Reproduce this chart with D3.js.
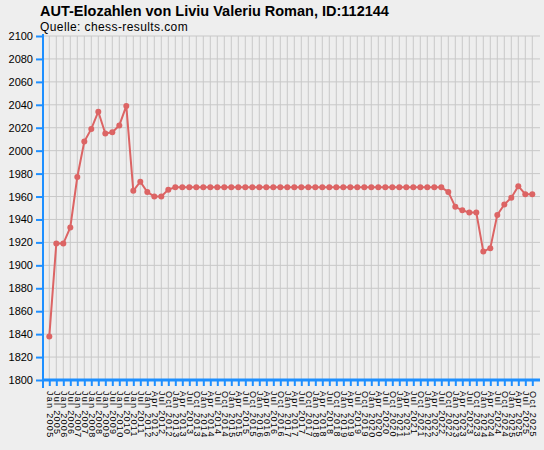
<!DOCTYPE html>
<html>
<head>
<meta charset="utf-8">
<script src="https://cdn.jsdelivr.net/npm/d3@7"></script>
<style>
  body { margin: 0; background: #eeeeee; }
  svg { display: block; font-family: "Liberation Sans", Arial, sans-serif; }
</style>
</head>
<body>
<svg id="chart" width="544" height="450"></svg>
<script>
// Rating dates: twice a year until 2011, then quarterly
const dates = [
  'Jan 2005', 'Jul 2005', 'Jan 2006', 'Jul 2006', 'Jan 2007', 'Jul 2007', 'Jan 2008', 'Jul 2008',
  'Jan 2009', 'Jul 2009', 'Jan 2010', 'Jul 2010', 'Jan 2011', 'Jul 2011'
];
for (let yr = 2012; yr <= 2025; yr++) {
  ['Jan', 'Apr', 'Jul', 'Oct'].forEach(m => dates.push(m + ' ' + yr));
}

const ratings = [
  1838, 1919, 1919, 1933, 1977, 2008, 2019, 2034, 2015, 2016,
  2022, 2039, 1965, 1973, 1964, 1960, 1960, 1966, 1968, 1968,
  1968, 1968, 1968, 1968, 1968, 1968, 1968, 1968, 1968, 1968,
  1968, 1968, 1968, 1968, 1968, 1968, 1968, 1968, 1968, 1968,
  1968, 1968, 1968, 1968, 1968, 1968, 1968, 1968, 1968, 1968,
  1968, 1968, 1968, 1968, 1968, 1968, 1968, 1964, 1951, 1948,
  1946, 1946, 1912, 1915, 1944, 1953, 1959, 1969, 1962, 1962
];

const yTicks = d3.range(1800, 2101, 20);

const title = 'AUT-Elozahlen von Liviu Valeriu Roman, ID:112144';
const subtitle = 'Quelle: chess-results.com';

const data = dates.map((d, i) => ({ date: d, elo: ratings[i] }));

const svg = d3.select('#chart');
const axisColor = '#1e8fff';
const lineColor = '#dc6464';

const margin = { left: 43, right: 540, top: 36, bottom: 380 };

const x = d3.scalePoint()
  .domain(dates)
  .range([49.3, 532.3]);

const y = d3.scaleLinear()
  .domain([1800, 2100])
  .range([margin.bottom, margin.top]);

// grid
svg.append('g')
  .selectAll('line')
  .data(yTicks)
  .join('line')
  .attr('x1', margin.left).attr('x2', margin.right)
  .attr('y1', d => y(d)).attr('y2', d => y(d))
  .attr('stroke', '#c8c8c8')
  .attr('stroke-width', 1);

svg.append('g')
  .selectAll('line')
  .data(dates)
  .join('line')
  .attr('x1', d => x(d)).attr('x2', d => x(d))
  .attr('y1', margin.top).attr('y2', margin.bottom)
  .attr('stroke', '#c8c8c8')
  .attr('stroke-width', 1);

// line + markers
const line = d3.line()
  .x(d => x(d.date))
  .y(d => y(d.elo));

svg.append('path')
  .datum(data)
  .attr('fill', 'none')
  .attr('stroke', lineColor)
  .attr('stroke-width', 2)
  .attr('d', line);

svg.append('g')
  .selectAll('circle')
  .data(data)
  .join('circle')
  .attr('cx', d => x(d.date))
  .attr('cy', d => y(d.elo))
  .attr('r', 3)
  .attr('fill', lineColor);

// y axis
const yAxis = svg.append('g')
  .attr('transform', `translate(${margin.left},0)`)
  .call(d3.axisLeft(y).tickValues(yTicks).tickSize(7).tickPadding(3).tickFormat(d3.format('d')));
yAxis.select('.domain').attr('stroke', axisColor).attr('stroke-width', 2)
  .attr('d', `M0,${margin.top - 2}V${margin.bottom}`);
yAxis.selectAll('.tick line').attr('stroke', axisColor).attr('stroke-width', 2);
yAxis.selectAll('.tick text')
  .attr('fill', '#000')
  .style('font-size', '11px')
  .style('font-family', '"Liberation Sans", Arial, sans-serif');

// x axis
const xAxis = svg.append('g')
  .attr('transform', `translate(0,${margin.bottom})`)
  .call(d3.axisBottom(x).tickSize(6).tickPadding(10));
xAxis.select('.domain').attr('stroke', axisColor).attr('stroke-width', 3)
  .attr('d', `M${margin.left},0H${margin.right}`);
xAxis.selectAll('.tick line').attr('stroke', axisColor).attr('stroke-width', 2);
xAxis.selectAll('.tick text')
  .attr('fill', '#000')
  .attr('transform', 'rotate(90)')
  .attr('text-anchor', 'start')
  .attr('x', 11)
  .attr('y', 0)
  .attr('dy', '0.35em')
  .style('font-size', '9px')
  .style('letter-spacing', '1.3px')
  .style('font-family', '"Liberation Sans", Arial, sans-serif');

// corner tick
svg.append('line')
  .attr('x1', margin.left).attr('x2', margin.left)
  .attr('y1', margin.bottom).attr('y2', margin.bottom + 8)
  .attr('stroke', axisColor).attr('stroke-width', 2);

// titles
svg.append('text')
  .attr('x', 40).attr('y', 16)
  .style('font-size', '14.5px')
  .style('font-weight', 'bold')
  .text(title);

svg.append('text')
  .attr('x', 40).attr('y', 31)
  .style('font-size', '12px')
  .style('letter-spacing', '0.4px')
  .text(subtitle);
</script>
</body>
</html>
